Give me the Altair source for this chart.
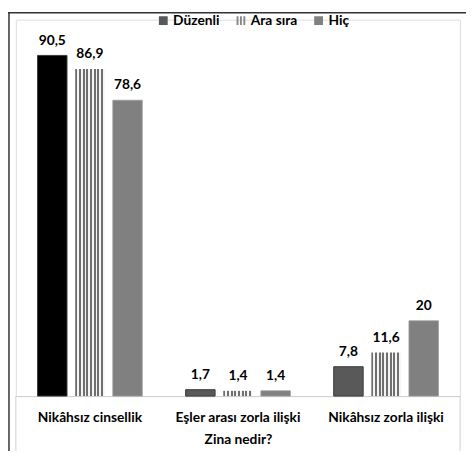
import altair as alt
import pandas as pd

categories = ["Nikâhsız cinsellik", "Eşler arası zorla ilişki", "Nikâhsız zorla ilişki"]
series = ["Düzenli", "Ara sıra", "Hiç"]
duzenli = [90.5, 1.7, 7.8]
ara_sira = [86.9, 1.4, 11.6]
hic = [78.6, 1.4, 20]

rows = []
for s, vals in zip(series, [duzenli, ara_sira, hic]):
    for c, v in zip(categories, vals):
        rows.append({"category": c, "series": s, "value": v})
df = pd.DataFrame(rows)

W, H = 452, 383
FONT = "Lato"

x = alt.X("category:N", sort=categories,
          scale=alt.Scale(domain=categories, paddingInner=0, paddingOuter=0),
          axis=alt.Axis(title="Zina nedir?", labelAngle=0, labelFont=FONT, labelFontWeight="bold",
                        labelFontSize=14, labelColor="#000", labelPadding=15, ticks=False,
                        domainColor="#d0d0d0", domainWidth=1, titleFont=FONT, titleFontWeight="bold",
                        titleFontSize=14, titleColor="#000", titlePadding=8))
xo = alt.XOffset("series:N", sort=series,
                 scale=alt.Scale(domain=series, paddingInner=0.217, paddingOuter=0.576))
y = alt.Y("value:Q", scale=alt.Scale(domain=[0, 100], nice=False), axis=None)

base = alt.Chart(df)

n = 8
stops = []
for i in range(n):
    a, b, c = i / n, (i + 0.55) / n, (i + 1) / n
    stops += [{"offset": a, "color": "#6f6f6f"}, {"offset": b, "color": "#6f6f6f"},
              {"offset": b, "color": "#f4f4f4"}, {"offset": c, "color": "#f4f4f4"}]
stripe = {"gradient": "linear", "x1": 0, "x2": 1, "y1": 0, "y2": 0, "stops": stops}

bars_d = base.transform_filter(alt.datum.series == series[0]).mark_bar(
    stroke="#3a3a3a", strokeWidth=1).encode(
    x=x, xOffset=xo, y=y,
    fill=alt.condition(alt.datum.category == categories[0], alt.value("#000000"), alt.value("#595959")))
bars_a = base.transform_filter(alt.datum.series == series[1]).mark_bar(fill=stripe).encode(
    x=x, xOffset=xo, y=y)
bars_h = base.transform_filter(alt.datum.series == series[2]).mark_bar(
    fill="#808080", stroke="#9a9a9a", strokeWidth=0.8).encode(x=x, xOffset=xo, y=y)

labels = base.transform_calculate(
    label="replace('' + datum.value, '.', ',')"
).mark_text(dy=-8, baseline="bottom", font=FONT, fontWeight="bold", fontSize=14, color="#000").encode(
    x=x, xOffset=xo, y=y, text="label:N")

leg = alt.Legend(title=None, orient="none", legendX=143, legendY=-6, direction="horizontal",
                 labelFont=FONT, labelFontWeight="bold", labelFontSize=14, labelColor="#000",
                 symbolOpacity=1, symbolSize=80, columnPadding=14, symbolStrokeWidth=0, labelOffset=3)
stripe_path = "M-1,-1H-0.55V1H-1Z M-0.22,-1H0.22V1H-0.22Z M0.55,-1H1V1H0.55Z"
legend_layer = base.mark_point(filled=True, opacity=0).encode(
    x=x, xOffset=xo, y=y,
    fill=alt.Fill("series:N", sort=series,
                  scale=alt.Scale(domain=series, range=["#595959", "#8a8a8a", "#808080"]), legend=leg),
    shape=alt.Shape("series:N", sort=series,
                    scale=alt.Scale(domain=series, range=["square", stripe_path, "square"]), legend=leg))

one = alt.Chart(pd.DataFrame({"a": [0]}))
box_l = one.mark_rule(color="#d0d0d0", strokeWidth=1).encode(x=alt.value(0), y=alt.value(H), y2=alt.value(H + 56))
box_r = one.mark_rule(color="#d0d0d0", strokeWidth=1).encode(x=alt.value(W), y=alt.value(H), y2=alt.value(H + 56))
frame_t = one.mark_rule(color="#333333", strokeWidth=1.5).encode(x=alt.value(-8), x2=alt.value(W + 6), y=alt.value(-7))
frame_l = one.mark_rule(color="#333333", strokeWidth=1.5).encode(x=alt.value(-7), y=alt.value(-7), y2=alt.value(H + 60))

chart = alt.layer(bars_d, bars_a, bars_h, labels, legend_layer, box_l, box_r, frame_t, frame_l).properties(
    width=W, height=H,
    autosize=alt.AutoSizeParams(type="none"),
    padding={"left": 8, "top": 8, "right": 6, "bottom": 52},
).configure_view(stroke=None).configure(background="white")

chart.save("out.html", embed_options={"renderer": "svg", "actions": False})
